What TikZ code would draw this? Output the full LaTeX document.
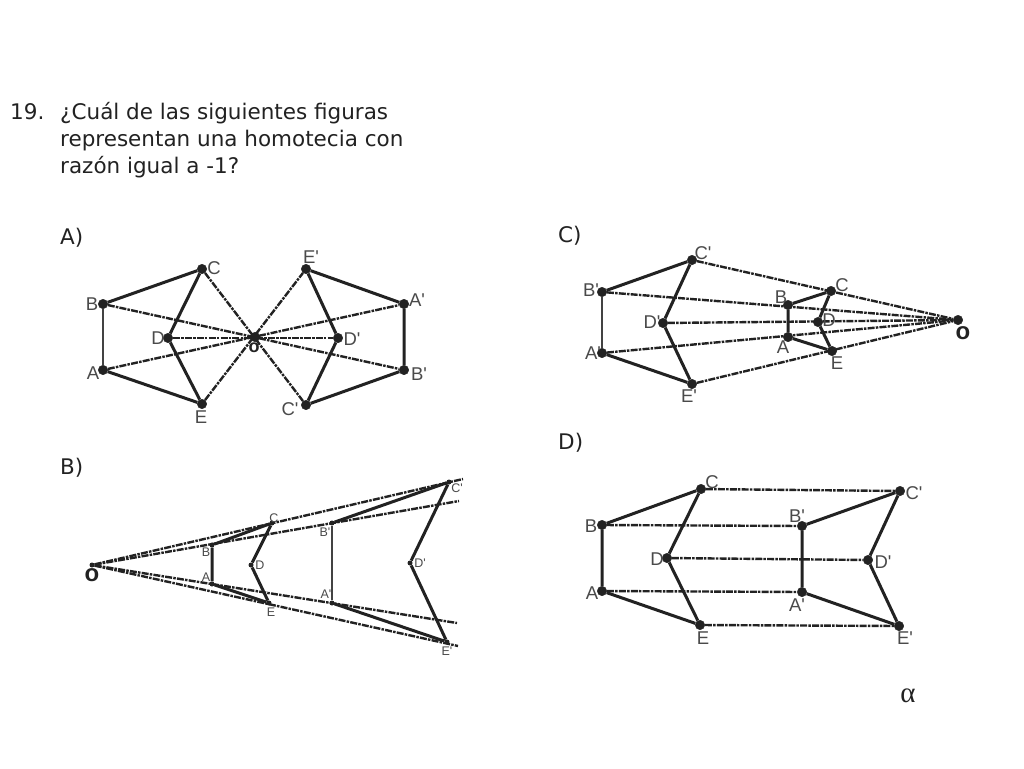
\documentclass[tikz,border=0pt]{standalone}
\usepackage{fontspec}
\setmainfont{DejaVu Sans}
\newfontfamily\lblfont{Liberation Sans}
\newfontfamily\alphafont{Liberation Serif}
\definecolor{ink}{HTML}{222222}
\definecolor{lbl}{HTML}{4A4A4A}
\tikzset{
  pt/.style={circle,fill=ink,draw=ink,inner sep=0pt,minimum size=9.5pt},
  ptsmall/.style={circle,fill=ink,inner sep=0pt,minimum size=5pt},
  side/.style={draw=ink,line width=3pt},
  thinside/.style={draw=ink!85,line width=1.8pt},
  ray/.style={draw=ink,line width=2.4pt,dash pattern=on 7pt off 1.2pt on 2.5pt off 1.2pt},
  lab/.style={text=lbl,font=\lblfont\fontsize{18.5}{19}\selectfont,inner sep=0pt,anchor=center},
  labsmall/.style={text=lbl,font=\lblfont\fontsize{12.5}{13}\selectfont,inner sep=0pt,anchor=center},
  heading/.style={text=ink,font=\fontsize{21.5}{21.5}\selectfont,inner sep=0pt,anchor=base west},
  boldlab/.style={text=ink,font=\lblfont\bfseries\fontsize{24}{24}\selectfont,inner sep=0pt,anchor=center},
  boldsmall/.style={text=ink,font=\lblfont\bfseries\fontsize{18}{18}\selectfont,inner sep=0pt,anchor=center}
}
\begin{document}
\begin{tikzpicture}[x=1pt,y=-1pt]
\useasboundingbox (0,0) rectangle (1024,768);
\fill[white] (0,0) rectangle (1024,768);
% Title
\node[heading] (t0) at (10,119.5) {19.};
\node[heading] (t1) at (60,119.5) {¿Cuál de las siguientes figuras};
\node[heading] (t2) at (60,146) {representan una homotecia con};
\node[heading] (t3) at (60,173) {razón igual a -1?};
\node[heading] (ha) at (60,244) {A)};
\node[heading] (hb) at (60,474) {B)};
\node[heading] (hc) at (558,242) {C)};
\node[heading] (hd) at (558,449) {D)};
\node[text=ink,font=\alphafont\fontsize{29}{29}\selectfont,inner sep=0pt] (alpha) at (908,696) {α};

% ---------- Panel A
\foreach \n/\x/\y in {aA/103/370,aB/103/304,aC/202/269,aD/168/338,aE/202/404,aO/255/337,
  aAp/404/304,aBp/404/370,aCp/306/405,aDp/338/338,aEp/306/269}
  \node[pt] (\n) at (\x,\y) {};
\foreach \p/\q in {aA/aAp,aB/aBp,aC/aCp,aD/aDp,aE/aEp}
  \draw[ray] (\p) -- (\q);
\draw[thinside] (aA) -- (aB);
\draw[side] (aB) -- (aC) -- (aD) -- (aE) -- (aA);
\draw[side] (aAp) -- (aBp) -- (aCp) -- (aDp) -- (aEp) -- (aAp);
\foreach \n/\t/\x/\y in {laA/A/93/373,laB/B/92/304,laC/C/214/268,laD/D/158/338,laE/E/201/417,
  laAp/A'/417/300,laBp/B'/419/374,laCp/C'/290/409,laDp/D'/352/339,laEp/E'/311/257}
  \node[lab] (\n) at (\x,\y) {\t};
\node[boldsmall] (laO) at (254,348) {o};

% ---------- Panel B
\foreach \n/\x/\y in {bA/212/584,bB/212/545,bC/272/523,bD/251/565,bE/269/603,bO/92/565,
  bAp/332/603,bBp/332/523,bCp/449/482,bDp/410/563,bEp/447/642}
  \node[ptsmall] (\n) at (\x,\y) {};
\coordinate (bendC) at (463,479);
\coordinate (bendB) at (459,501);
\coordinate (bendA) at (457,623);
\coordinate (bendE) at (458,646);
\foreach \q in {bendC,bendB,bendA,bendE}
  \draw[ray] (bO) -- (\q);
\draw[side] (bA) -- (bB) -- (bC) -- (bD) -- (bE) -- (bA);
\draw[thinside] (bAp) -- (bBp);
\draw[side] (bBp) -- (bCp) -- (bDp) -- (bEp) -- (bAp);
\foreach \n/\t/\x/\y in {lbA/A/206/577,lbB/B/206/552,lbC/C/274/518,lbD/D/260/565,lbE/E/271/612,
  lbAp/A'/326/594,lbBp/B'/325/532,lbCp/C'/457/488,lbDp/D'/420/563,lbEp/E'/447/651}
  \node[labsmall] (\n) at (\x,\y) {\t};
\node[boldlab] (lbO) at (92,575) {o};

% ---------- Panel C
\foreach \n/\x/\y in {cA/788/337,cB/788/305,cC/831/291,cD/818/322,cE/832/351,cO/958/320,
  cAp/602/353,cBp/602/292,cCp/692/260,cDp/663/323,cEp/692/384}
  \node[pt] (\n) at (\x,\y) {};
\foreach \p in {cAp,cBp,cCp,cDp,cEp}
  \draw[ray] (\p) -- (cO);
\draw[side] (cA) -- (cB) -- (cC) -- (cD) -- (cE) -- (cA);
\draw[thinside] (cAp) -- (cBp);
\draw[side] (cBp) -- (cCp) -- (cDp) -- (cEp) -- (cAp);
\foreach \n/\t/\x/\y in {lcA/A/783/347,lcB/B/781/297,lcC/C/842/285,lcD/D/829/320,lcE/E/837/363,
  lcAp/A'/593/353,lcBp/B'/591/290,lcCp/C'/703/253,lcDp/D'/652/322,lcEp/E'/689/396}
  \node[lab] (\n) at (\x,\y) {\t};
\node[boldlab] (lcO) at (963,333) {o};

% ---------- Panel D
\foreach \n/\x/\y in {dA/602/591,dB/602/525,dC/701/489,dD/667/558,dE/700/625,
  dAp/802/592,dBp/802/526,dCp/900/491,dDp/868/560,dEp/899/626}
  \node[pt] (\n) at (\x,\y) {};
\foreach \p/\q in {dA/dAp,dB/dBp,dC/dCp,dD/dDp,dE/dEp}
  \draw[ray] (\p) -- (\q);
\draw[side] (dA) -- (dB) -- (dC) -- (dD) -- (dE) -- (dA);
\draw[side] (dAp) -- (dBp) -- (dCp) -- (dDp) -- (dEp) -- (dAp);
\foreach \n/\t/\x/\y in {ldA/A/592/593,ldB/B/591/526,ldC/C/712/482,ldD/D/657/559,ldE/E/703/638,
  ldAp/A'/797/605,ldBp/B'/797/516,ldCp/C'/914/493,ldDp/D'/883/562,ldEp/E'/905/638}
  \node[lab] (\n) at (\x,\y) {\t};
\end{tikzpicture}
\end{document}
